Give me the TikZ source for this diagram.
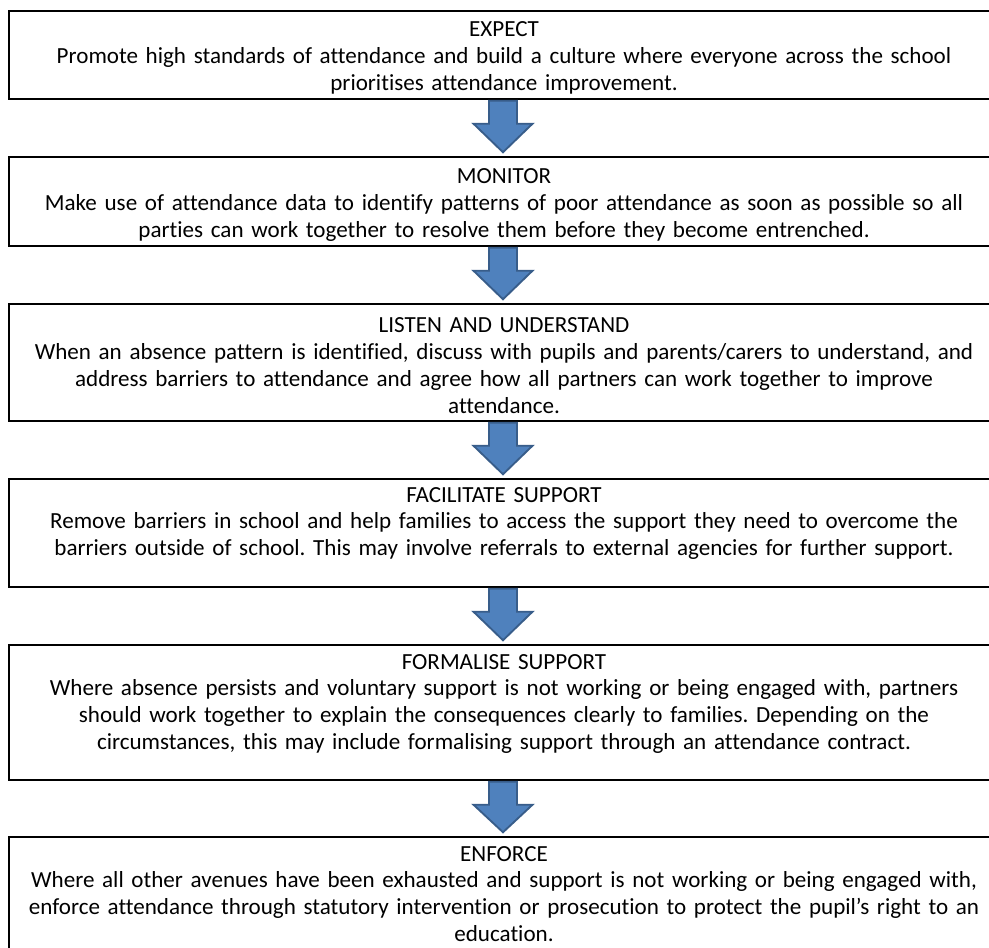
\documentclass[tikz,border=0pt]{standalone}
\usepackage{fontspec}
\setmainfont{Carlito}[Ligatures=NoCommon]
\usetikzlibrary{calc,fit}
\definecolor{arrfill}{RGB}{79,129,189}
\definecolor{arrline}{RGB}{56,93,138}
\frenchspacing
\tikzset{
  box/.style={draw=black, line width=1.1pt, inner sep=0pt, fill=none},
  txt/.style={align=center, text width=740pt, inner sep=0pt, anchor=base,
    font=\fontsize{17.3}{20.1}\selectfont},
  blockarrow/.style={draw=arrline, fill=arrfill, line width=1.4pt, line join=miter}
}
\newcommand\blockarr[2]{%
  \draw[blockarrow] ($(#1.south)+(-14,1)$) -- ($(#1.south)+(14,1)$)
    -- ($(#1.south)+(14,24)$) -- ($(#1.south)+(29.5,24)$)
    -- ($(#2.north)+(0,-4)$)
    -- ($(#1.south)+(-29.5,24)$) -- ($(#1.south)+(-14,24)$) -- cycle;}
\begin{document}
\begin{tikzpicture}[x=0.75pt,y=-0.75pt]
\useasboundingbox (0,0) rectangle (989,948);
\clip (0,0) rectangle (989,948);
\fill[white] (0,0) rectangle (989,948);

\node[box, fit={(9,11) (997,99)}] (b1) {};
\node[box, fit={(9,157) (997,246)}] (b2) {};
\node[box, fit={(9,304) (997,421)}] (b3) {};
\node[box, fit={(9,479) (997,587)}] (b4) {};
\node[box, fit={(9,645) (997,780)}] (b5) {};
\node[box, fit={(9,837) (997,965)}] (b6) {};

\node[txt] (t1) at (504,37) {EXPECT\\Promote high standards of attendance and build a culture where everyone across the school\\prioritises attendance improvement.};
\node[txt] (t2) at (504,184) {MONITOR\\Make use of attendance data to identify patterns of poor attendance as soon as possible so all\\parties can work together to resolve them before they become entrenched.};
\node[txt] (t3) at (504,333) {LISTEN AND UNDERSTAND\\When an absence pattern is identified, discuss with pupils and parents/carers to understand, and\\address barriers to attendance and agree how all partners can work together to improve\\attendance.};
\node[txt] (t4) at (504,502) {FACILITATE SUPPORT\\Remove barriers in school and help families to access the support they need to overcome the\\barriers outside of school. This may involve referrals to external agencies for further support.};
\node[txt] (t5) at (504,669) {FORMALISE SUPPORT\\Where absence persists and voluntary support is not working or being engaged with, partners\\should work together to explain the consequences clearly to families. Depending on the\\circumstances, this may include formalising support through an attendance contract.};
\node[txt] (t6) at (504,861) {ENFORCE\\Where all other avenues have been exhausted and support is not working or being engaged with,\\enforce attendance through statutory intervention or prosecution to protect the pupil’s right to an\\education.};

\blockarr{b1}{b2}
\blockarr{b2}{b3}
\blockarr{b3}{b4}
\blockarr{b4}{b5}
\blockarr{b5}{b6}
\end{tikzpicture}
\end{document}
